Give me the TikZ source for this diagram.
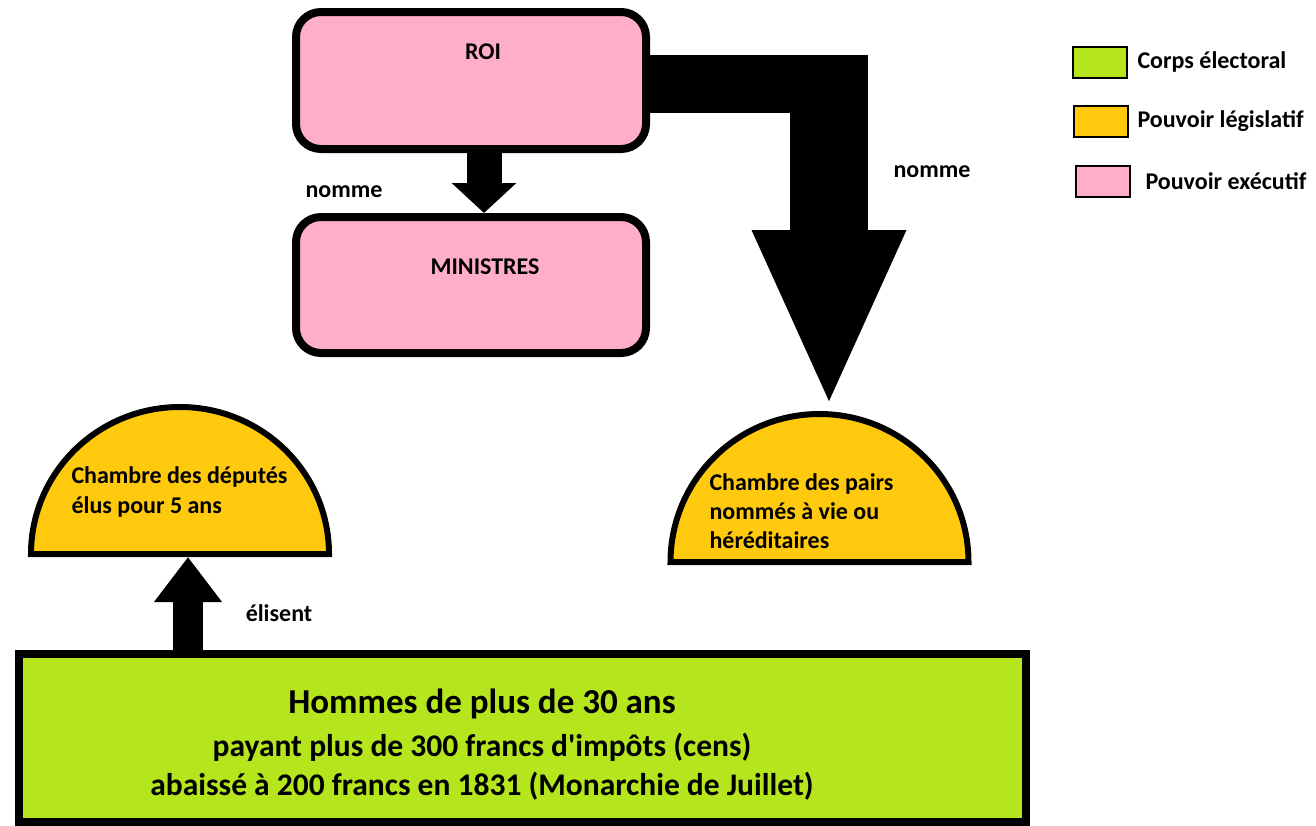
\documentclass[tikz,border=0pt]{standalone}
\usepackage{fontspec}
\setmainfont{Carlito}
\usetikzlibrary{arrows.meta}
\definecolor{corps}{HTML}{B5E61D}
\definecolor{legis}{HTML}{FFC90E}
\definecolor{exec}{HTML}{FFAEC9}

\begin{document}
\begin{tikzpicture}[x=1pt,y=-1pt,
        every node/.style={font=\bfseries\fontsize{24}{30}\selectfont},
        caja/.style={draw, line width=8pt, rounded corners=25pt, fill=exec,
                minimum width=350pt, minimum height=137pt},
        camara/.style={draw, line width=6pt, fill=legis},
        leyenda/.style={draw, line width=2pt, minimum width=54pt,
                minimum height=31pt, inner sep=0pt}]
        \useasboundingbox (0,0) rectangle (1316,825);
        % pouvoir executif
        \node[caja, label={[label distance=-55pt, xshift=12pt]north:ROI}] (roi) at (471,80.5) {};
        \node[caja, minimum height=136pt, label={[label distance=-65pt, xshift=14pt]north:MINISTRES}] (ministres) at (471,285) {};
        \draw[line width=35pt, -{Triangle[width=63pt,length=30pt]}] ([xshift=13pt]roi.south) -- ([xshift=13pt]ministres.north);
        \node at (344,192) {nomme};
        % chambres
        \draw[camara] (31,554) arc[start angle=180, end angle=360, x radius=149, y radius=147] -- cycle;
        \coordinate (deputes) at (180,557);
        \node[right, align=left] (tdeputes) at (68,492) {Chambre des députés\\élus pour 5 ans};
        \draw[camara] (670.5,562) arc[start angle=180, end angle=360, x radius=149, y radius=148] -- cycle;
        \coordinate (pairs) at (829,408);
        \node[right, align=left, font=\bfseries\fontsize{24}{29}\selectfont] (tpairs) at (706,511) {Chambre des pairs\\nommés à vie ou\\héréditaires};
        % roi -> pairs
        \coordinate (coude) at (829,55);
        \draw[line width=58pt] (roi.east |- 0,84) -- (868,84);
        \draw[line width=78pt, -{Triangle[width=140pt,length=178pt]}] (coude) -- (pairs);
        \node at (932,172) {nomme};
        % corps electoral
        \node[draw, line width=8pt, fill=corps, minimum width=1007pt, minimum height=168pt] (electeurs) at (522.5,738) {};
        \node[align=center, font=\bfseries\fontsize{31.5}{39}\selectfont] (cens) at (482,745)
                {{\fontsize{35}{40}\selectfont Hommes de plus de 30 ans}\\[4pt]
                payant plus de 300 francs d\textquotesingle impôts (cens)\\
                abaissé à 200 francs en 1831 (Monarchie de Juillet)};
        \draw[line width=30pt, -{Triangle[width=65pt,length=45pt]}] (electeurs.north -| 188,0) -- ([xshift=8pt]deputes);
        \node at (279,613) {élisent};
        % legende
        \node[leyenda, fill=corps] (lcorps) at (1100,62) {};
        \node[leyenda, fill=legis] (llegis) at (1101,121.5) {};
        \node[leyenda, fill=exec] (lexec) at (1103,181.5) {};
        \node[right=6pt] at (lcorps.east) {Corps électoral};
        \node[right=5pt] at (llegis.east) {Pouvoir législatif};
        \node[right=11pt] at (lexec.east) {Pouvoir exécutif};
\end{tikzpicture}
\end{document}
